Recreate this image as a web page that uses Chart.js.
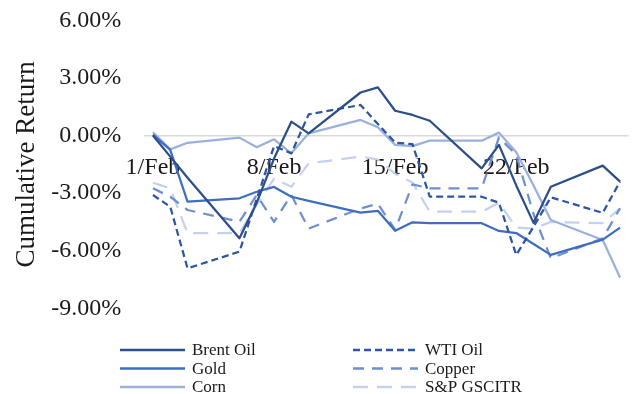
<!DOCTYPE html>
<html>
<head>
<meta charset="utf-8">
<script src="https://cdn.jsdelivr.net/npm/chart.js@4.4.1/dist/chart.umd.min.js"></script>
<style>
  html, body { margin: 0; padding: 0; background: #ffffff; }
  canvas { display: block; }
</style>
</head>
<body>
<canvas id="chart" width="636" height="394"></canvas>
<script>
// Trading days of February (day of month)
const days = [1, 2, 3, 6, 7, 8, 9, 10, 13, 14, 15, 16, 17, 20, 21, 22, 23, 24, 27, 28];
const monthName = 'Feb';
const tickDays = [1, 8, 15, 22];
const yTickValues = [-9, -6, -3, 0, 3, 6];

// Cumulative returns, in percent
const brentOil = [0.0, -1.1, -2.2, -5.35, -3.5, -1.2, 0.72, 0.11, 2.24, 2.51, 1.29, 1.07, 0.77, -1.71, -0.49, -2.6, -4.55, -2.67, -1.57, -2.4];
const wtiOil   = [-3.1, -3.71, -6.92, -6.05, -3.3, -0.55, -0.93, 1.1, 1.59, 0.6, -0.37, -0.45, -3.19, -3.19, -3.5, -6.22, -4.75, -3.22, -4.03, -2.4];
const gold     = [0.05, -0.75, -3.45, -3.27, -2.93, -2.68, -3.19, -3.4, -4.02, -3.92, -4.96, -4.52, -4.57, -4.57, -4.97, -5.08, -5.65, -6.22, -5.42, -4.8];
const copper   = [-2.75, -3.19, -3.88, -4.49, -3.1, -4.5, -3.1, -4.85, -3.8, -3.55, -4.92, -2.55, -2.75, -2.75, -0.1, -1.0, -4.1, -6.4, -5.35, -3.79];
const corn     = [0.17, -0.72, -0.38, -0.11, -0.61, -0.2, -0.93, 0.11, 0.81, 0.43, -0.49, -0.55, -0.27, -0.27, 0.15, -0.87, -2.6, -4.4, -5.44, -7.4];
const spGsci   = [-2.46, -2.75, -5.09, -5.09, -3.6, -2.25, -2.67, -1.45, -1.1, -1.25, -2.0, -2.45, -3.97, -3.97, -3.5, -4.8, -4.85, -4.5, -4.57, -3.79];

const seriesNames = ['Brent Oil', 'WTI Oil', 'Gold', 'Copper', 'Corn', 'S&P GSCITR'];
const seriesValues = [brentOil, wtiOil, gold, copper, corn, spGsci];

const styles = [
  { color: '#2C4F8C', dash: [] },
  { color: '#2F56A3', dash: [7, 4] },
  { color: '#3F6EC0', dash: [] },
  { color: '#6F8FD3', dash: [11, 8] },
  { color: '#9AB0DE', dash: [] },
  { color: '#C5D2EE', dash: [15, 9] }
];

const toPoints = vals => vals.map((v, i) => ({ x: days[i], y: v }));

const datasets = seriesNames.map((name, i) => ({
  label: name,
  data: toPoints(seriesValues[i]),
  borderColor: styles[i].color,
  backgroundColor: styles[i].color,
  borderDash: styles[i].dash,
  borderWidth: 2.25,
  borderJoinStyle: 'round',
  pointRadius: 0,
  tension: 0,
  fill: false
}));

// Two-column legend below the plot
const gridLegend = {
  id: 'gridLegend',
  afterDraw(chart, args, opts) {
    const ctx = chart.ctx;
    ctx.save();
    ctx.font = opts.font;
    ctx.textBaseline = 'middle';
    ctx.textAlign = 'left';
    chart.data.datasets.forEach((ds, i) => {
      const col = i % 2;
      const row = Math.floor(i / 2);
      const x0 = opts.columns[col];
      const y = opts.top + row * opts.rowGap;
      ctx.strokeStyle = ds.borderColor;
      ctx.lineWidth = 2.5;
      ctx.setLineDash(ds.borderDash || []);
      ctx.beginPath();
      ctx.moveTo(x0, y);
      ctx.lineTo(x0 + opts.sampleLength, y);
      ctx.stroke();
      ctx.setLineDash([]);
      ctx.fillStyle = opts.color;
      ctx.fillText(ds.label, x0 + opts.sampleLength + 7, y + 1);
    });
    ctx.restore();
  }
};

// Keep the plot box exactly where the layout padding puts it
const noScalePadding = scale => {
  scale.paddingTop = 0;
  scale.paddingBottom = 0;
  scale.paddingLeft = 0;
  scale.paddingRight = 0;
};

new Chart(document.getElementById('chart'), {
  type: 'line',
  data: { datasets },
  plugins: [gridLegend],
  options: {
    responsive: false,
    animation: false,
    devicePixelRatio: 1,
    layout: { padding: { left: 0, top: 20.3, right: 7.3, bottom: 85.7 } },
    plugins: {
      legend: { display: false },
      tooltip: { enabled: false },
      gridLegend: {
        font: '17px "Liberation Serif"',
        color: '#1a1a1a',
        columns: [120, 353],
        top: 350,
        rowGap: 18.5,
        sampleLength: 65
      }
    },
    scales: {
      x: {
        type: 'linear',
        position: { y: 0 },
        min: 0.5,
        max: 28.5,
        afterFit: scale => { scale.height = 0; noScalePadding(scale); },
        grid: { display: false },
        border: { display: false },
        afterBuildTicks: scale => { scale.ticks = tickDays.map(v => ({ value: v })); },
        ticks: {
          autoSkip: false,
          maxRotation: 0,
          padding: 10,
          color: '#1a1a1a',
          font: { family: 'Liberation Serif', size: 24 },
          callback: v => v + '/' + monthName
        }
      },
      y: {
        min: -9,
        max: 6,
        afterFit: scale => { scale.width = 144.3; noScalePadding(scale); },
        afterBuildTicks: scale => { scale.ticks = yTickValues.map(v => ({ value: v })); },
        grid: {
          drawTicks: false,
          lineWidth: 1.5,
          color: c => (c.tick && c.tick.value === 0 ? '#D9D9D9' : 'rgba(0,0,0,0)')
        },
        border: { display: false },
        title: {
          display: true,
          text: 'Cumulative Return',
          color: '#1a1a1a',
          font: { family: 'Liberation Serif', size: 27 },
          padding: { top: 11, bottom: 0 }
        },
        ticks: {
          padding: 23,
          color: '#1a1a1a',
          font: { family: 'Liberation Serif', size: 24 },
          callback: v => v.toFixed(2) + '%'
        }
      }
    }
  }
});
</script>
</body>
</html>
